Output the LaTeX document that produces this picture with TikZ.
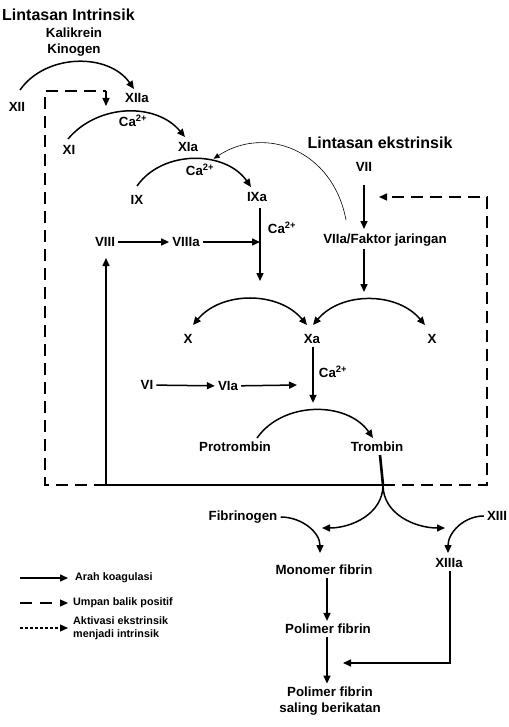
\documentclass[tikz,border=0pt]{standalone}
\usepackage{fontspec}
\setmainfont{Liberation Sans}
\usetikzlibrary{arrows.meta}
\newcommand{\caion}{Ca\textsuperscript{2+}}

\begin{document}
\begin{tikzpicture}[x=1pt, y=1pt,
    >={Triangle[length=8pt, width=7pt]},
    every node/.style={font=\bfseries\fontsize{13.3}{16}\selectfont, inner sep=3pt},
    ttl/.style={font=\bfseries\fontsize{16}{19}\selectfont},
    leg/.style={font=\bfseries\fontsize{10.8}{13}\selectfont, anchor=west, align=left},
    flow/.style={line width=1.5pt},
    fb/.style={line width=1.5pt, dash pattern=on 12pt off 7pt},
    thin/.style={line width=0.6pt, >={Triangle[length=6pt, width=5pt]}}]
    \useasboundingbox (0,0) rectangle (508,-727);

    \node [ttl, anchor=west] (intr) at (-1,-15) {Lintasan Intrinsik};
    \node [align=center] (kal) at (74,-42) {Kalikrein\\Kinogen};
    \node (xii) at (17,-107) {XII};
    \node (xiia) at (137,-98) {XIIa};
    \node (ca1) at (133,-121) {\caion};
    \node (xi) at (69,-150) {XI};
    \node (xia) at (188,-147) {XIa};
    \node (ca2) at (200,-170) {\caion};
    \node (ix) at (137,-200) {IX};
    \node (ixa) at (257,-197) {IXa};
    \node [ttl] (extr) at (380,-143) {Lintasan ekstrinsik};
    \node (vii) at (364,-167) {VII};
    \node (viia) at (385,-240) {VIIa/Faktor jaringan};
    \node (ca3) at (282,-228) {\caion};
    \node (viii) at (105,-242) {VIII};
    \node (viiia) at (186,-242) {VIIIa};
    \node (xl) at (188,-339) {X};
    \node (xa) at (312,-339) {Xa};
    \node (xr) at (432,-339) {X};
    \node (ca4) at (333,-372) {\caion};
    \node (vi) at (147,-385) {VI};
    \node (via) at (228,-386) {VIa};
    \node (pro) at (235,-447) {Protrombin};
    \node (tro) at (377,-447) {Trombin};
    \node (fib) at (243,-517) {Fibrinogen};
    \node (xiii) at (497,-516) {XIII};
    \node (mono) at (324,-570) {Monomer fibrin};
    \node (xiiia) at (449,-563) {XIIIa};
    \node (pol) at (328,-629) {Polimer fibrin};
    \node [align=center] (cross) at (330,-701) {Polimer fibrin\\saling berikatan};

    \coordinate (split) at (383,-485);
    \coordinate (fbl) at (106,-485);
    \coordinate (fbtop) at (106,-91);
    \coordinate (ixline) at (260,-242);
    \coordinate (xain) at (297,-385);

    \draw [flow, ->] ([shift={(3,17)}]xii.center) to[out=55, in=125] ([shift={(-3,9)}]xiia.center);
    \draw [flow, ->] ([shift={(-1,11)}]xi.center) to[out=50, in=130] ([shift={(-3,10)}]xia.center);
    \draw [flow, ->] ([shift={(0,14)}]ix.center) to[out=55, in=125] coordinate[pos=0.65] (ixhit) ([shift={(-6,10)}]ixa.center);
    \draw [thin, ->] ([shift={(-39,20)}]viia.center) .. controls +(-13,70) and +(51,34) .. ([yshift=3pt]ixhit);

    \draw [flow, ->] ([yshift=-18pt]vii.center) -- ([shift={(-21,11)}]viia.center);
    \draw [flow, ->] ([shift={(-21,-9)}]viia.center) -- ([shift={(-21,-52)}]viia.center);
    \draw [flow, ->] ([shift={(3,-11)}]ixa.center) -- ([shift={(3,-84)}]ixa.center);
    \draw [flow, ->] (viii) -- (viiia);
    \draw [flow, ->] (viiia) -- (ixline);

    \draw [flow, <->] ([shift={(5,14)}]xl.center) to[out=50, in=130] ([shift={(-5,14)}]xa.center);
    \draw [flow, <->] ([shift={(1,14)}]xa.center) to[out=50, in=130] ([shift={(-7,14)}]xr.center);
    \draw [flow, ->] ([xshift=1pt]xa.south) -- ++(0,-56);
    \draw [flow, ->] (vi) -- (via);
    \draw [flow, ->] (via) -- (xain);
    \draw [flow, ->] ([shift={(22,9)}]pro.center) to[out=55, in=125] ([shift={(-4,9)}]tro.center);

    \draw [line width=2.6pt] ([xshift=3pt]tro.south) -- (split);
    \draw [flow] (split) -- (fbl);
    \draw [flow, ->] (fbl) -- ++(0,227);
    \draw [fb] (fbl) -- ++(-61,0) |- (fbtop);
    \draw [flow, ->] (fbtop) -- ++(0,-15);
    \draw [fb, ->] (split) -- ++(104,0) |- ([shift={(15,-30)}]vii.center);

    \draw [flow, ->] (split) to[out=-90, in=0] ([shift={(-2,42)}]mono.center);
    \draw [flow, ->] (split) to[out=-90, in=180] ([shift={(-4,35)}]xiiia.center);
    \draw [flow, ->] (fib.east) to[out=0, in=90] ([shift={(-4,17)}]mono.center);
    \draw [flow, ->] (xiii.west) to[out=180, in=90] ([shift={(-1,10)}]xiiia.center);
    \draw [flow, ->] ([xshift=3pt]mono.south) -- ([xshift=-1pt]pol.north);
    \draw [flow, ->] ([xshift=-1pt]pol.south) -- ([xshift=-3pt]cross.north);
    \draw [flow, ->] ([xshift=1pt]xiiia.south) |- ([shift={(15,-34)}]pol.center);

    \node [leg] (leg1) at (72,-578) {Arah koagulasi};
    \node [leg] (leg2) at (70,-603) {Umpan balik positif};
    \node [leg] (leg3) at (70,-628) {Aktivasi ekstrinsik\\menjadi intrinsik};
    \draw [flow, ->] ([xshift=-52pt]leg1.west) -- ([xshift=-4pt]leg1.west);
    \draw [line width=1.3pt, dash pattern=on 12pt off 8pt, ->] ([xshift=-50pt]leg2.west) -- ([xshift=-2pt]leg2.west);
    \draw [line width=1.2pt, dash pattern=on 3pt off 2pt, ->] ([xshift=-50pt]leg3.west) -- ([xshift=-2pt]leg3.west);
\end{tikzpicture}
\end{document}
